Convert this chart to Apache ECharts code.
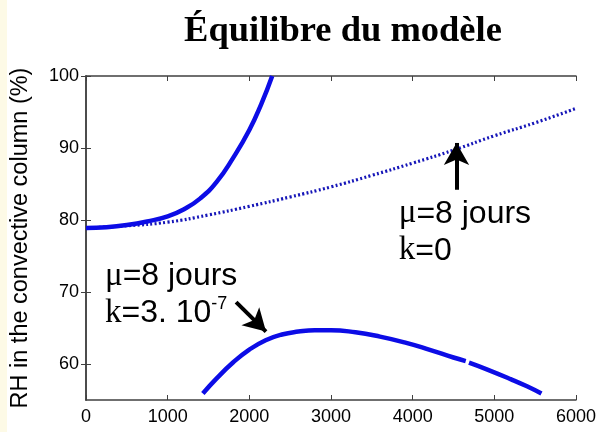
<!DOCTYPE html>
<html>
<head>
<meta charset="utf-8">
<script src="https://cdn.jsdelivr.net/npm/echarts@6/dist/echarts.min.js"></script>
<style>
html,body{margin:0;padding:0;background:#fff;}
#container{width:599px;height:432px;}
</style>
</head>
<body>
<div id="container"></div>
<script>
// tick labels
var xTicks = [0, 1000, 2000, 3000, 4000, 5000, 6000];
var yTicks = [60, 70, 80, 90, 100];

// mu = 8 jours, k = 3e-7, upper branch
var upperBranch = [[0, 78.9], [250, 79.0], [500, 79.3], [750, 79.8], [1000, 80.5], [1200, 81.5],
	[1400, 83.0], [1600, 85.3], [1800, 88.6], [2000, 92.5], [2150, 96.2], [2280, 100]];
// mu = 8 jours, k = 0 (dotted)
var kZero = [[0, 78.9], [500, 79.2], [1000, 79.7], [1500, 80.7], [2000, 81.9], [2500, 83.2],
	[3000, 84.6], [3500, 86.2], [4000, 87.9], [4500, 89.7], [5000, 91.7], [5500, 93.5], [6000, 95.5]];
// mu = 8 jours, k = 3e-7, lower branch
var lowerBranch = [[1431, 55.9], [1600, 58.0], [1800, 60.2], [2000, 62.0], [2200, 63.3], [2400, 64.1],
	[2600, 64.5], [2800, 64.7], [3000, 64.7], [3300, 64.4], [3600, 63.8], [3900, 63.0], [4200, 62.0],
	[4500, 60.9], [4650, 60.4], [4670, '-'], [4690, 60.2], [4900, 59.3], [5200, 57.9], [5400, 56.9], [5577, 55.9]];

// annotations (data coordinates)
var arrowK0 = [[4537, 84.2], [4537, 90.7]];
var arrowK3 = [[1838, 68.6], [2204, 64.5]];
var textK0 = [3829, 78.3];
var textK3 = [232, 69.6];

var myChart = echarts.init(document.getElementById('container'));

var axisCol = '#404040';
var lab = {fontFamily: 'Liberation Sans', fontSize: 18, color: '#000'};

var option = {
	animation: false,
	backgroundColor: '#fff',
	title: {
		text: 'Équilibre du modèle',
		left: 338, top: 8, textAlign: 'center',
		textStyle: {fontFamily: 'Liberation Serif', fontWeight: 'bold', fontSize: 36.5, color: '#000'}
	},
	grid: {left: 86, right: 21, top: 76, bottom: 32},
	xAxis: [{
		type: 'value', min: 0, max: 6000, interval: 1000, position: 'bottom',
		axisLine: {show: true, lineStyle: {color: axisCol, width: 1.5}},
		axisTick: {show: true, inside: true, length: 5, lineStyle: {color: axisCol}},
		axisLabel: Object.assign({margin: 8, formatter: function(v) { return String(v); }}, lab),
		splitLine: {show: false}
	}, {
		type: 'value', min: 0, max: 6000, interval: 1000, position: 'top',
		axisLine: {show: true, lineStyle: {color: axisCol, width: 1.5}},
		axisTick: {show: true, inside: true, length: 5, lineStyle: {color: axisCol}},
		axisLabel: {show: false},
		splitLine: {show: false}
	}],
	yAxis: [{
		type: 'value', min: 55, max: 100, position: 'left',
		name: 'RH in the convective column (%)', nameLocation: 'middle', nameGap: 53,
		nameTextStyle: {fontFamily: 'Liberation Sans', fontSize: 23.5, color: '#000'},
		axisLine: {show: true, lineStyle: {color: axisCol, width: 1.5}},
		axisTick: {show: true, inside: true, length: 5, customValues: yTicks, lineStyle: {color: axisCol}},
		axisLabel: Object.assign({margin: 7, customValues: yTicks}, lab),
		splitLine: {show: false}
	}, {
		type: 'value', min: 55, max: 100, position: 'right',
		axisLine: {show: true, lineStyle: {color: axisCol, width: 1.5}},
		axisTick: {show: true, inside: true, length: 5, customValues: yTicks, lineStyle: {color: axisCol}},
		axisLabel: {show: false},
		splitLine: {show: false}
	}],
	series: [{
		type: 'line', data: kZero, showSymbol: false, smooth: true,
		lineStyle: {color: '#1616b8', width: 3.2, type: [2, 2.3]},
		markLine: {
			silent: true, symbol: ['none', 'arrow'], symbolSize: [19, 22],
			label: {show: false},
			lineStyle: {color: '#000', width: 4, type: 'solid'},
			data: [
				[{coord: arrowK0[0]}, {coord: arrowK0[1]}],
				[{coord: arrowK3[0]}, {coord: arrowK3[1]}]
			]
		}
	}, {
		type: 'line', data: upperBranch, showSymbol: false, smooth: true,
		lineStyle: {color: '#0c0ce6', width: 4.5}
	}, {
		type: 'line', data: lowerBranch, showSymbol: false, smooth: true,
		lineStyle: {color: '#0c0ce6', width: 4.5}
	}]
};
myChart.setOption(option);

function annot(pt, str) {
	var p = myChart.convertToPixel({xAxisIndex: 0, yAxisIndex: 0}, pt);
	return {
		type: 'text', x: p[0], y: p[1],
		style: {
			text: str, verticalAlign: 'middle', align: 'left',
			rich: {
				s: {fontFamily: 'Liberation Serif', fontSize: 33, lineHeight: 37, fill: '#000'},
				n: {fontFamily: 'Liberation Sans', fontSize: 32, lineHeight: 37, fill: '#000'},
				sup: {fontFamily: 'Liberation Sans', fontSize: 18, lineHeight: 37, verticalAlign: 'top', padding: [0, 0, 14, 0], fill: '#000'}
			}
		}
	};
}

myChart.setOption({
	graphic: [
		{type: 'rect', left: 0, top: 0, shape: {width: 7, height: 432}, style: {fill: '#fdfae6'}, z: -1},
		annot(textK0, '{s|μ}{n|=8 jours}\n{s|k}{n|=0}'),
		annot(textK3, '{s|μ}{n|=8 jours}\n{s|k}{n|=3. 10}{sup|-7}')
	]
});
</script>
</body>
</html>
